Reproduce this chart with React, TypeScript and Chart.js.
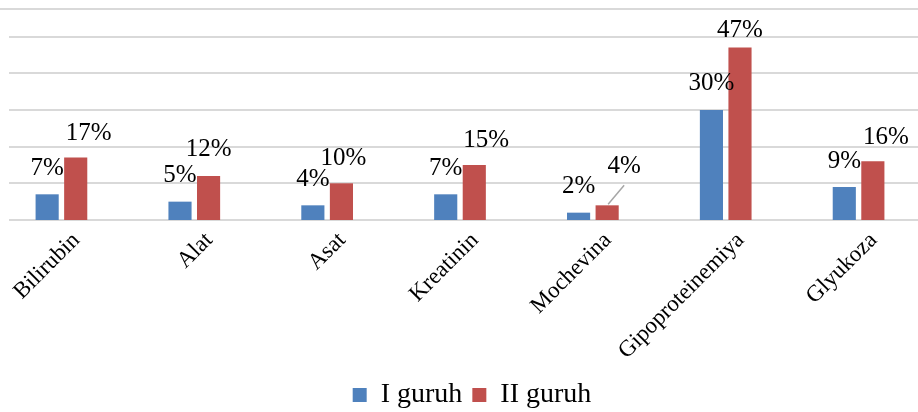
import React, { useEffect, useRef } from "react";
import { Chart, registerables } from "chart.js";

Chart.register(...registerables);

const categories = ["Bilirubin", "Alat", "Asat", "Kreatinin", "Mochevina", "Gipoproteinemiya", "Glyukoza"];
const group1 = [7, 5, 4, 7, 2, 30, 9];
const group2 = [17, 12, 10, 15, 4, 47, 16];
const seriesNames = ["I guruh", "II guruh"];
const gridValues = [0, 10, 20, 30, 40, 50];

// manual label nudges (px) as in the source chart
const redNudgeX = [13, 0, 2, 12, 17, 0, 13];
const redNudgeY = [2, -1, 1, 1, -13, 9, 2];
const redLeader = [false, false, false, false, true, false, false];

const BLUE = "#4f81bd";
const RED = "#c0504d";
const FONT = "'Liberation Serif', 'Times New Roman', serif";

const CANVAS_W = 954;
const CANVAS_H = 440;

const gridPlugin = {
  id: "customGrid",
  beforeDatasetsDraw(chart: any) {
    const { ctx, chartArea } = chart;
    const y = chart.scales.y;
    ctx.save();
    ctx.strokeStyle = "#d9d9d9";
    ctx.lineWidth = 2;
    gridValues.forEach((v) => {
      const py = Math.round(y.getPixelForValue(v));
      ctx.beginPath();
      ctx.moveTo(chartArea.left + 14, py);
      ctx.lineTo(chart.width, py);
      ctx.stroke();
    });
    const top = Math.round(chartArea.top);
    ctx.beginPath();
    ctx.moveTo(0, top);
    ctx.lineTo(chart.width, top);
    ctx.stroke();
    ctx.restore();
  },
};

const labelPlugin = {
  id: "valueLabels",
  afterDatasetsDraw(chart: any) {
    const { ctx } = chart;
    ctx.save();
    ctx.font = `25px ${FONT}`;
    ctx.fillStyle = "#000";
    ctx.textAlign = "center";
    ctx.textBaseline = "middle";
    chart.data.datasets.forEach((ds: any, di: number) => {
      const meta = chart.getDatasetMeta(di);
      meta.data.forEach((bar: any, i: number) => {
        const v = ds.data[i];
        const dx = di === 1 ? redNudgeX[i] : 0;
        const dy = di === 1 ? redNudgeY[i] : 0;
        const lx = bar.x + dx;
        const ly = bar.y - 26 + dy;
        if (di === 1 && redLeader[i]) {
          ctx.save();
          ctx.strokeStyle = "#a6a6a6";
          ctx.lineWidth = 1.5;
          ctx.beginPath();
          ctx.moveTo(bar.x + 1, bar.y - 1);
          ctx.lineTo(lx, ly + 19);
          ctx.stroke();
          ctx.restore();
        }
        ctx.fillText(`${v}%`, lx, ly);
      });
    });
    ctx.restore();
  },
};

export default function App() {
  const canvasRef = useRef<HTMLCanvasElement | null>(null);

  useEffect(() => {
    if (!canvasRef.current) return;
    const chart = new Chart(canvasRef.current, {
      type: "bar",
      data: {
        labels: categories,
        datasets: [
          {
            label: seriesNames[0],
            data: group1,
            backgroundColor: BLUE,
            borderWidth: 0,
            categoryPercentage: 0.43,
            barPercentage: 0.81,
          },
          {
            label: seriesNames[1],
            data: group2,
            backgroundColor: RED,
            borderWidth: 0,
            categoryPercentage: 0.43,
            barPercentage: 0.81,
          },
        ],
      },
      options: {
        responsive: false,
        devicePixelRatio: 1,
        animation: false,
        layout: { padding: { top: 9, bottom: 21, left: 0, right: 0 } },
        scales: {
          x: {
            grid: { display: false },
            border: { display: false },
            ticks: {
              autoSkip: false,
              minRotation: 45,
              maxRotation: 45,
              labelOffset: 15,
              padding: -1,
              color: "#000",
              font: { family: FONT, size: 23 },
            },
            afterFit: (s: any) => {
              s.height = 151;
            },
          },
          y: {
            position: "right",
            min: 0,
            max: 57.5,
            grid: { display: false },
            border: { display: false },
            ticks: { display: false, stepSize: 10 },
            afterFit: (s: any) => {
              s.width = 24;
            },
          },
        },
        plugins: {
          legend: {
            position: "bottom",
            labels: {
              boxWidth: 14,
              boxHeight: 14,
              padding: 10,
              color: "#000",
              font: { family: FONT, size: 28 },
            },
          },
          tooltip: { enabled: false },
        },
      },
      plugins: [gridPlugin, labelPlugin],
    });
    return () => chart.destroy();
  }, []);

  return (
    <div
      style={{
        position: "fixed",
        left: 0,
        top: 0,
        width: 918,
        height: 412,
        overflow: "hidden",
        background: "#fff",
      }}
    >
      <canvas
        ref={canvasRef}
        width={CANVAS_W}
        height={CANVAS_H}
        style={{ position: "absolute", left: -5, top: 0, width: CANVAS_W, height: CANVAS_H }}
      />
    </div>
  );
}
